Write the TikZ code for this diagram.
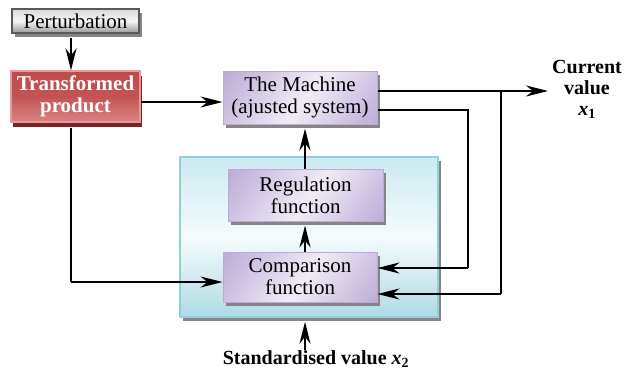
\documentclass[tikz,border=0pt]{standalone}
\usepackage{fontspec}
\setmainfont{Liberation Serif}
\usetikzlibrary{arrows.meta,shadows,calc}

\definecolor{lavlight}{HTML}{F0ECF5}
\definecolor{lavmid}{HTML}{CEC1E1}
\definecolor{lavdark}{HTML}{A690C6}
\definecolor{lavborder}{HTML}{BBAAD8}
\definecolor{redmain}{HTML}{C04A4A}
\definecolor{redlow}{HTML}{D98585}
\definecolor{redborder}{HTML}{E79A9A}
\definecolor{redshadow}{HTML}{7A2626}
\definecolor{cyantop}{HTML}{CBEAF1}
\definecolor{cyanmid}{HTML}{F5FBFC}
\definecolor{cyanbot}{HTML}{AEDBE4}
\definecolor{cyanborder}{HTML}{90CFDB}
\definecolor{stipple}{HTML}{858585}

% lavender fill: purple edges, pale band through the middle
\pgfdeclarehorizontalshading{lavfill}{100bp}{color(0bp)=(lavdark); color(28bp)=(lavmid); color(52bp)=(lavlight); color(74bp)=(lavmid); color(100bp)=(lavdark)}

\tikzset{
  arr/.style={line width=2pt,-{Stealth[length=22pt,width=11pt,inset=7pt]}},
  wire/.style={line width=2pt},
  boxtext/.style={font=\fontsize{21}{22}\selectfont, align=center, inner sep=0pt},
  funcbox/.style={boxtext, rectangle, draw=lavborder, line width=1pt,
    shading=lavfill, shading angle=-35,
    general shadow={fill=stipple, shadow xshift=3pt, shadow yshift=-4pt}},
  perturbbox/.style={boxtext, rectangle, draw=black!65, line width=1.5pt,
    top color=black!15, bottom color=black!40, middle color=black!4,
    general shadow={fill=stipple, shadow xshift=3pt, shadow yshift=-4pt}},
  prodbox/.style={boxtext, rectangle, draw=redborder, line width=1.2pt,
    top color=redmain, bottom color=redlow, middle color=redmain!95!white,
    text=white, font=\fontsize{21}{22}\selectfont\bfseries,
    general shadow={fill=redshadow, shadow xshift=2pt, shadow yshift=-5pt}},
  groupbox/.style={rectangle, draw=cyanborder, line width=1.5pt,
    top color=cyantop, bottom color=cyanbot, middle color=cyanmid,
    general shadow={fill=stipple, shadow xshift=3pt, shadow yshift=-4pt}},
  labeltext/.style={font=\fontsize{20}{21}\selectfont\bfseries, align=center, inner sep=0pt}
}

\begin{document}
\begin{tikzpicture}[x=1pt,y=-1pt]
\useasboundingbox (0,0) rectangle (626,372);

% enclosing group of the regulating part
\node[groupbox, minimum width=258pt, minimum height=160pt] (grp) at (309,237) {};

% blocks
\node[perturbbox, minimum width=127pt, minimum height=24pt] (pert) at (75.5,21) {Perturbation};
\node[prodbox, minimum width=129pt, minimum height=51pt] (prod) at (75.5,96.5) {Transformed\\product};
\node[funcbox, minimum width=154pt, minimum height=53pt] (mach) at (300,97.5) {The Machine\\(ajusted system)};
\node[funcbox, minimum width=155pt, minimum height=52pt] (reg) at (305.5,195) {Regulation\\function};
\node[funcbox, minimum width=154pt, minimum height=50pt] (comp) at (300,277) {Comparison\\function};

% labels
\node[labeltext] (cur) at (587,89) {Current\\value\\\textit{x}\textsubscript{1}};
\node[labeltext, anchor=base] (std) at (316,364) {Standardised value \textit{x}\textsubscript{2}};

% helper points
\coordinate (outend) at (548,91);
\coordinate (fb1) at (501,91);
\coordinate (fb2) at (468,110);
\coordinate (stdtail) at (305,350);

% connectors
\draw[arr] (pert.south -| 71,0) ++(0,4) -- (prod.north -| 71,0);
\draw[arr] ($(prod.east)+(0,5.5)$) -- ($(mach.west)+(0,4.5)$);
\draw[arr] ($(mach.east)+(0,-6.5)$) -- (outend);
\draw[wire] (fb1) -- (fb1 |- 0,294);
\draw[arr] (fb1 |- 0,294) -- ($(comp.east)+(0,17)$);
\draw[wire] ($(mach.east)+(0,12.5)$) -- (fb2) -- (fb2 |- 0,268);
\draw[arr] (fb2 |- 0,268) -- ($(comp.east)+(0,-9)$);
\draw[wire] (prod.south -| 71,0) ++(0,5) -- (71,282);
\draw[arr] (71,282) -- ($(comp.west)+(0,5)$);
\draw[arr] (comp.north -| 305,0) -- ($(reg.south)+(-0.5,4)$);
\draw[arr] (reg.north -| 305,0) -- ($(mach.south)+(5,4)$);
\draw[arr] (stdtail) -- ($(grp.south)+(-4,4)$);
\end{tikzpicture}
\end{document}
